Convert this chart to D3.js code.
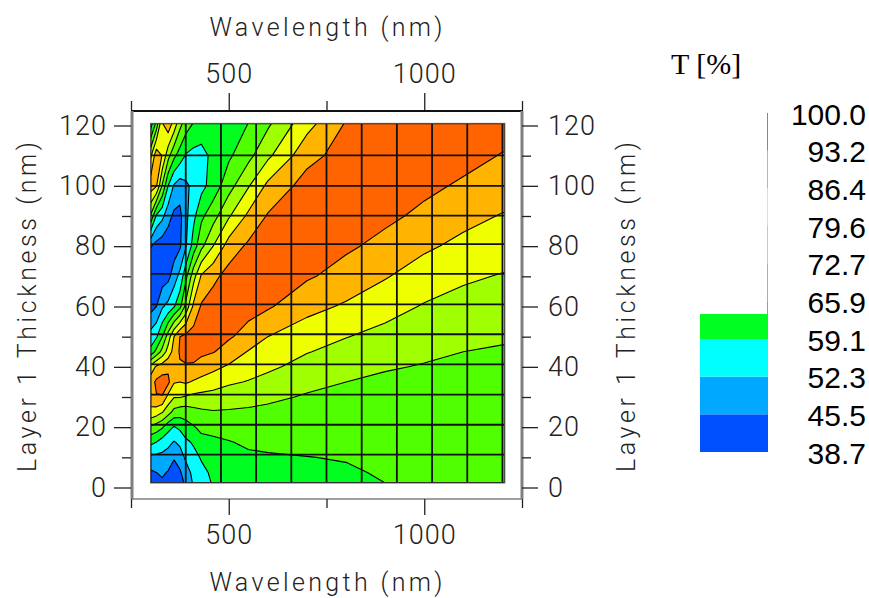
<!DOCTYPE html>
<html>
<head>
<meta charset="utf-8">
<script src="https://cdn.jsdelivr.net/npm/d3@7/dist/d3.min.js"></script>
<style>
html,body{margin:0;padding:0;background:#fff}
svg{display:block}
.thin{font-family:Roboto,"DejaVu Sans",sans-serif;font-weight:300;fill:#222}
</style>
</head>
<body>
<svg id="chart" width="869" height="598"></svg>
<script>
// T [%], one row per thickness, one column per wavelength
const wavelengths=[300,315,330,345,360,375,390,410,430,460,500,550,600,700,800,900,1000,1100,1200,1206];
const thicknesses=[1.5,5,10,15,20,25,30,35,40,45,50,60,70,80,90,100,110,120.7];
const transmission=[
[42,43,44.5,43,41,42,47,53.2,56.7,59.6,60.2,61.5,62,63.5,64.8,65.9,66,66.5,67,67],
[44.5,45.5,46.5,45,43,44.5,49.5,54.1,57.2,60.5,61,62.8,63.5,64.3,65.3,66.4,66.6,67,67.5,67.5],
[50.4,50.5,50.5,49,46,49,53.4,56.8,59.8,62.3,63.4,64.7,65.4,65.8,66.2,67,67.2,67.5,68,68],
[61,59,55.9,54.3,51.8,53.6,57.6,60,63.7,64.7,65.5,67,67,67.3,67.3,67.6,67.8,68,68.5,68.5],
[71.3,69.5,66.7,61.4,58.6,60.6,63.3,65.4,67.5,67.7,68.8,69,69,68.7,68.5,68.4,68.5,68.7,69,69],
[85.5,83,80,75.5,70.5,68.9,68.8,70.4,71.5,72.2,72,71.5,71,70.2,69.9,69.3,69.3,69.3,69.5,69.5],
[88,92.8,92.8,84,80,80,79,78,77.5,76.9,76.1,75.5,74.2,72,71.3,70.2,70,70,70,70],
[90,94.5,96,95,87,86.4,87.3,85.6,84.3,83,80.6,79.2,77.4,74.6,72.7,71.4,71,70.8,70.8,70.8],
[82,87.5,90,91.5,91,92.4,92.8,92.5,90.5,88,85.6,83,80.9,77.2,75,73.3,72.3,71.5,71.5,71.5],
[61,68,75,82.5,89,94,94.5,95,94.5,93.6,90.4,86,83.4,79.9,77.5,75.5,73.9,72.7,72.2,72.2],
[55,58.2,65.9,76,86.4,93.2,95,96,96,95,94,90.8,86.4,82.5,79.8,77.6,75.6,74.2,73.3,73.3],
[43,45.5,51.5,54.3,58.5,64,74.5,88,94,96.5,96,95.5,94,88.6,85.5,82,79.1,77.3,76.2,76.2],
[41,41,42,43.5,49,54.3,63.8,77,87.3,91.5,95.7,96,96,94,90.7,86.9,83.2,80.6,79.2,79.2],
[46,43,41.5,41,42,44.5,51.5,62.3,71,79.6,89.5,94.4,96,95.5,94.2,91.4,87.5,84.7,82.6,82.6],
[72,58,54,48,44,43.5,50.5,57.4,64.5,70,78.8,87.8,93.8,96,96,94.5,91.9,88.4,86,86],
[90,87,72,59.1,51.5,49,51,54,57,62,70,79,88,96,96,95.5,94.5,92.4,89.6,89.6],
[78,91,86,75,67.5,62.8,58.5,57,57.5,60.3,64.8,70.7,78.2,91,96,96,95.5,95,92.9,92.9],
[55,68,86,91,84,75,69.5,65.5,62,60.5,61.5,66,71.5,84,93.7,96,96,96,95.5,95.5]
];
const levels=[38.7,45.5,52.3,59.1,65.9,72.7,79.6,86.4,93.2,100.0];
const levelLabels=["38.7","45.5","52.3","59.1","65.9","72.7","79.6","86.4","93.2","100.0"];
const bandColors=["#0050ff","#00a8ff","#00ffff","#00ff20","#50ff00","#a0ff00","#f0ff00","#ffb400","#ff6400"];
const gridWave=[300,390,480,570,660,750,840,930,1020,1110,1200];
const gridThick=[1.5,10.9,20.8,30.8,40.8,50.8,60.7,70.8,80.7,90.1,100,110.1,120.7];
const waveMajor=[500,1000];
const waveMinor=[250,750,1250];
const thickMajor=[0,20,40,60,80,100,120];
const thickMinor=[10,30,50,70,90,110];

const svg=d3.select("#chart");
let x=d3.scaleLinear().domain([250,1250]).range([131,522]);
let y=d3.scaleLinear().domain([0,120]).range([487.5,125.5]);
const waveEnd=wavelengths[wavelengths.length-1];

/* contour map */
let n=wavelengths.length, m=thicknesses.length;
let xIdx=d3.scaleLinear().domain(d3.range(n)).range(wavelengths).clamp(true);
let yIdx=d3.scaleLinear().domain(d3.range(m)).range(thicknesses).clamp(true);
let contours=d3.contours().size([n,m]).thresholds(levels.slice(0,-1)).smooth(true)(transmission.flat());
let path=d3.geoPath().projection(d3.geoTransform({point(px,py){
  this.stream.point(x(xIdx(px-0.5)),y(yIdx(py-0.5)));
}}));

svg.append("clipPath").attr("id","mapClip").append("rect")
  .attr("x",x(300)).attr("y",y(120.7))
  .attr("width",x(waveEnd)-x(300)).attr("height",y(1.5)-y(120.7));

let map=svg.append("g").attr("clip-path","url(#mapClip)");
map.selectAll("path").data(contours).enter().append("path")
  .attr("d",path)
  .attr("fill",(d,i)=>bandColors[i])
  .attr("stroke","#000").attr("stroke-width",1.1).attr("stroke-linejoin","round");

// grid on top of the map
map.selectAll("line.v").data(gridWave).enter().append("line").attr("class","v")
  .attr("x1",d=>x(d)).attr("x2",d=>x(d)).attr("y1",y(120.7)).attr("y2",y(1.5))
  .attr("stroke","#111").attr("stroke-width",1.8);
map.selectAll("line.h").data(gridThick).enter().append("line").attr("class","h")
  .attr("x1",x(300)).attr("x2",x(waveEnd)).attr("y1",d=>y(d)).attr("y2",d=>y(d))
  .attr("stroke","#111").attr("stroke-width",1.8);
svg.append("rect").attr("x",x(300)).attr("y",y(120.7))
  .attr("width",x(waveEnd)-x(300)).attr("height",y(1.5)-y(120.7))
  .attr("fill","none").attr("stroke","#555").attr("stroke-width",1);

/* frame */
const frameTop=111, frameBottom=499, frameLeft=132, frameRight=522;
svg.append("line").attr("x1",frameLeft-1).attr("x2",frameRight+1).attr("y1",frameTop).attr("y2",frameTop).attr("stroke","#111").attr("stroke-width",2);
svg.append("line").attr("x1",frameLeft).attr("x2",frameLeft).attr("y1",frameTop).attr("y2",frameBottom).attr("stroke","#808080").attr("stroke-width",3);
svg.append("line").attr("x1",frameRight).attr("x2",frameRight).attr("y1",frameTop).attr("y2",frameBottom).attr("stroke","#808080").attr("stroke-width",3);
svg.append("line").attr("x1",frameLeft).attr("x2",frameRight).attr("y1",frameBottom).attr("y2",frameBottom).attr("stroke","#808080").attr("stroke-width",1.5);

/* axes */
function addAxis(gen,tx,ty){
  let g=svg.append("g").attr("transform","translate("+tx+","+ty+")").call(gen);
  g.select(".domain").remove();
  g.selectAll(".tick line").attr("stroke","#222").attr("stroke-width",1.3);
  g.selectAll("text").attr("class","thin").style("font-size","27px").style("letter-spacing","1px").attr("fill",null);
  return g;
}
addAxis(d3.axisTop(x).tickValues(waveMajor).tickSize(17).tickPadding(10).tickFormat(d3.format("d")),0,frameTop-1);
addAxis(d3.axisTop(x).tickValues(waveMinor).tickSize(9).tickFormat(""),0,frameTop-1);
addAxis(d3.axisBottom(x).tickValues(waveMajor).tickSize(16).tickPadding(10).tickFormat(d3.format("d")),0,frameBottom);
addAxis(d3.axisBottom(x).tickValues(waveMinor).tickSize(9).tickFormat(""),0,frameBottom);
addAxis(d3.axisLeft(y).tickValues(thickMajor).tickSize(17).tickPadding(7).tickFormat(d3.format("d")),131,0);
addAxis(d3.axisLeft(y).tickValues(thickMinor).tickSize(9).tickFormat(""),131,0);
addAxis(d3.axisRight(y).tickValues(thickMajor).tickSize(16).tickPadding(10).tickFormat(d3.format("d")),522,0);
addAxis(d3.axisRight(y).tickValues(thickMinor).tickSize(9).tickFormat(""),522,0);

// axis titles
function title(str,cx,cy,rot,len){
  svg.append("text").attr("class","thin")
    .attr("transform","translate("+cx+","+cy+") rotate("+rot+")")
    .attr("text-anchor","middle").attr("dominant-baseline","central")
    .attr("textLength",len).attr("lengthAdjust","spacing")
    .style("font-size","25px").text(str);
}
title("Wavelength (nm)",326,27,0,233);
title("Wavelength (nm)",326,582,0,233);
title("Layer 1 Thickness (nm)",27,307,-90,330);
title("Layer 1 Thickness (nm)",626,307,-90,330);

/* legend */
let legendY=d3.scaleLinear().domain([0,9]).range([452,113]);
const barLeft=700, barRight=768, barClip=314;
let bands=d3.range(9);
svg.selectAll("rect.thinBand").data(bands).enter().append("rect").attr("class","thinBand")
  .attr("x",barRight-1).attr("width",1)
  .attr("y",d=>legendY(d+1)).attr("height",d=>legendY(d)-legendY(d+1))
  .attr("fill",d=>bandColors[d]);
svg.selectAll("rect.band").data(bands.filter(d=>legendY(d)>barClip)).enter().append("rect").attr("class","band")
  .attr("x",barLeft).attr("width",barRight-barLeft)
  .attr("y",d=>Math.max(legendY(d+1),barClip))
  .attr("height",d=>legendY(d)-Math.max(legendY(d+1),barClip))
  .attr("fill",d=>bandColors[d]);
svg.selectAll("text.lev").data(levelLabels).enter().append("text").attr("class","lev")
  .attr("x",866).attr("y",(d,i)=>legendY(i)+1).attr("text-anchor","end").attr("dominant-baseline","central")
  .style("font-family","'Liberation Sans',Arial,sans-serif").style("font-size","30px").attr("fill","#000")
  .text(d=>d);
svg.append("text").attr("x",671).attr("y",74)
  .style("font-family","'Liberation Serif','Times New Roman',serif").style("font-size","30px").attr("fill","#000")
  .text("T [%]");
</script>
</body>
</html>
